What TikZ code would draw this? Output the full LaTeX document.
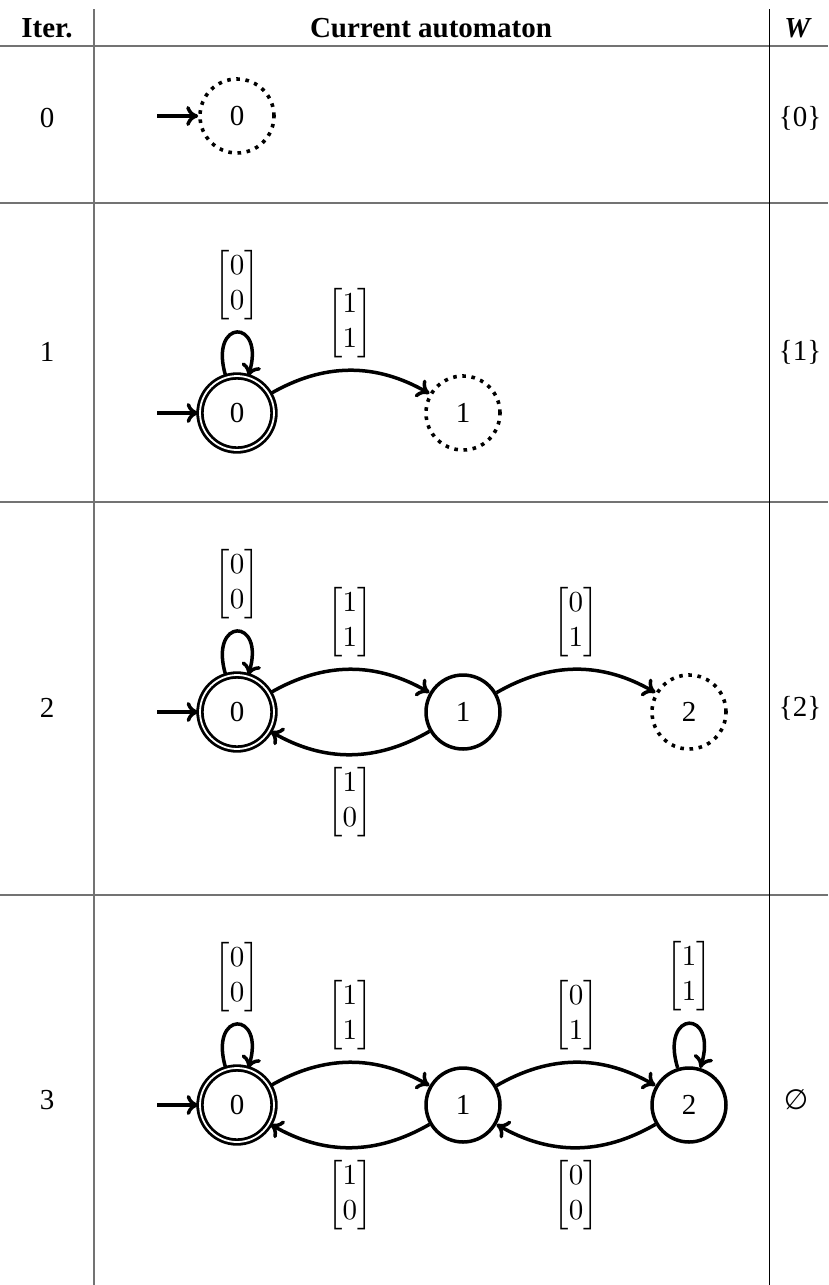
\documentclass[tikz,border=0pt]{standalone}
\usepackage{amsmath}
\usepackage{graphicx}
\usepackage{fontspec}
\setmainfont{Liberation Serif}
\newfontfamily\symfont{DejaVu Sans}
\usetikzlibrary{arrows.meta}
\newcommand{\mymat}[2]{\scalebox{2.9}{\fontsize{10}{12}\selectfont$\begin{bmatrix}#1\\#2\end{bmatrix}$}}
\begin{document}
\begin{tikzpicture}[x=1pt,y=1pt,
  font=\fontsize{29}{35}\selectfont,
  stnode/.style={circle, draw, line width=3.5pt, minimum size=74pt, inner sep=0pt},
  dotst/.style={stnode, line width=3.6pt, dash pattern=on 3.6pt off 5.6pt},
  accst/.style={stnode, double, double distance=1.8pt, line width=2.8pt},
  arr/.style={line width=3.5pt, -{To[length=12pt,width=20pt]}},
  lbl/.style={inner sep=3pt},
  loopl/.style={out=107,in=73,looseness=7},
  rulel/.style={line width=2pt, draw=black!55},
  cell/.style={inner sep=0pt}]
\useasboundingbox (0,0) rectangle (828,-1285);
% table lines
\draw[rulel] (0,-46) -- (828,-46);
\draw[rulel] (0,-203) -- (828,-203);
\draw[rulel] (0,-502) -- (828,-502);
\draw[rulel] (0,-895) -- (828,-895);
\draw[rulel] (94,-9) -- (94,-1285);
\draw[line width=1pt] (769,-9) -- (769,-1285);
% header
\node[cell] (hIter) at (47,-28) {\textbf{Iter.}};
\node[cell] (hAut) at (431,-28) {\textbf{Current automaton}};
\node[cell] (hW) at (798,-28) {\textbf{\textit{W}}};
% iteration labels
\node[cell] (i0) at (47,-118) {0};
\node[cell] (i1) at (47,-352) {1};
\node[cell] (i2) at (47,-708) {2};
\node[cell] (i3) at (47,-1100) {3};
% W labels
\node[cell] (w0) at (800,-118) {\{0\}};
\node[cell] (w1) at (800,-352) {\{1\}};
\node[cell] (w2) at (800,-708) {\{2\}};
\node[cell] (w3) at (796,-1100) {\fontsize{28}{32}\symfont ∅};
% row 0
\node[dotst] (s00) at (237,-116) {0};
\coordinate (st0) at (157,-116);
\draw[arr] (st0) -- (s00);
% row 1
\node[accst] (s10) at (237,-413) {0};
\node[dotst] (s11) at (463,-413) {1};
\coordinate (st1) at (157,-413);
\draw[arr] (st1) -- (s10);
\draw[arr] (s10) to[loopl] node[lbl,above=8pt] {\mymat{0}{0}} (s10);
\draw[arr] (s10) to[bend left=30] node[lbl,above=8pt] {\mymat{1}{1}} (s11);
% row 2
\node[accst] (s20) at (237,-712) {0};
\node[stnode] (s21) at (463,-712) {1};
\node[dotst] (s22) at (689,-712) {2};
\coordinate (st2) at (157,-712);
\draw[arr] (st2) -- (s20);
\draw[arr] (s20) to[loopl] node[lbl,above=8pt] {\mymat{0}{0}} (s20);
\draw[arr] (s20) to[bend left=30] node[lbl,above=8pt] {\mymat{1}{1}} (s21);
\draw[arr] (s21) to[bend left=30] node[lbl,below=8pt] {\mymat{1}{0}} (s20);
\draw[arr] (s21) to[bend left=30] node[lbl,above=8pt] {\mymat{0}{1}} (s22);
% row 3
\node[accst] (s30) at (237,-1105) {0};
\node[stnode] (s31) at (463,-1105) {1};
\node[stnode] (s32) at (689,-1105) {2};
\coordinate (st3) at (157,-1105);
\draw[arr] (st3) -- (s30);
\draw[arr] (s30) to[loopl] node[lbl,above=8pt] {\mymat{0}{0}} (s30);
\draw[arr] (s30) to[bend left=30] node[lbl,above=8pt] {\mymat{1}{1}} (s31);
\draw[arr] (s31) to[bend left=30] node[lbl,below=8pt] {\mymat{1}{0}} (s30);
\draw[arr] (s31) to[bend left=30] node[lbl,above=8pt] {\mymat{0}{1}} (s32);
\draw[arr] (s32) to[bend left=30] node[lbl,below=8pt] {\mymat{0}{0}} (s31);
\draw[arr] (s32) to[loopl] node[lbl,above=8pt] {\mymat{1}{1}} (s32);
\end{tikzpicture}
\end{document}
